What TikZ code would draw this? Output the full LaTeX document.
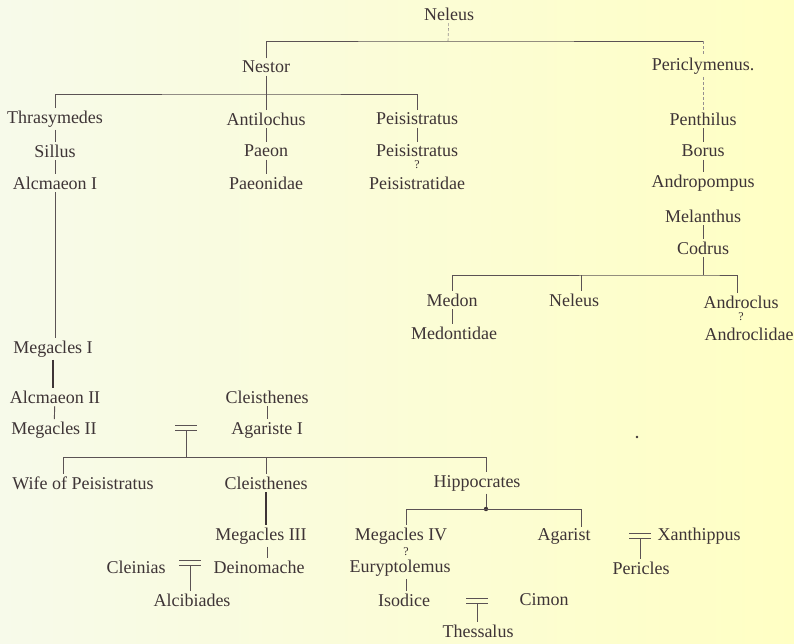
\documentclass[tikz,border=0pt]{standalone}
\usepackage{fontspec}
\setmainfont{Liberation Serif}
\usetikzlibrary{positioning}
\definecolor{ink}{RGB}{62,52,54}
\definecolor{bgleft}{RGB}{247,250,234}
\definecolor{bgmid}{RGB}{251,253,226}
\definecolor{bgright}{RGB}{255,255,196}
\begin{document}
\begin{tikzpicture}[x=1pt, y=-1pt, on grid, node distance=32pt,
	per/.style={inner xsep=0.5pt, inner ysep=2.5pt, text=ink, font=\fontsize{18}{20}\selectfont},
	doubt/.style={inner sep=0pt, text=ink, font=\fontsize{12}{14}\selectfont},
	kin/.style={draw=ink!85, line width=0.9pt},
	heavy/.style={draw=ink, line width=1.7pt},
	faint/.style={draw=ink!55, line width=0.6pt, densely dashed}]
	\shade[left color=bgleft, middle color=bgmid, right color=bgright] (0,0) rectangle (794,643);
	\useasboundingbox (0,0) rectangle (794,643);
	% Neleus and his sons
	\node[per] (neleus) at (449,14) {Neleus};
	\node[per] (nestor) at (266,67) {Nestor};
	\node[per] (pericl) at (703,66) {Periclymenus.};
	\coordinate (top) at (448,41);
	\draw[faint] (neleus) -- (top);
	\draw[kin] (nestor.north) |- (top) -- (top -| pericl);
	\draw[faint] (top -| pericl) -- (pericl.north);
	% line of Nestor
	\node[per] (thras) at (55,119) {Thrasymedes};
	\node[per] (sillus) [below=of thras] {Sillus};
	\node[per] (alc1) [below=of sillus] {Alcmaeon I};
	\node[per] (antil) at (266,119) {Antilochus};
	\node[per] (paeon) [below=of antil] {Paeon};
	\node[per] (paeonid) [below=of paeon] {Paeonidae};
	\node[per] (peis1) at (417,119) {Peisistratus};
	\node[per] (peis2) [below=of peis1] {Peisistratus};
	\node[per] (peisid) [below=of peis2] {Peisistratidae};
	\node[doubt] (q1) [below=14pt of peis2] {?};
	\coordinate (nb) at (266,94);
	\draw[kin] (nestor) -- (nb);
	\draw[kin] (thras.north) |- (nb) -| (peis1.north);
	\draw[kin] (nb) -- (antil);
	\draw[kin] (thras) -- (sillus);
	\draw[kin] (sillus) -- (alc1);
	\draw[kin] (antil) -- (paeon);
	\draw[kin] (paeon) -- (paeonid);
	\draw[kin] (peis1) -- (peis2);
	% line of Periclymenus
	\node[per] (penth) at (703,119) {Penthilus};
	\node[per] (borus) [below=of penth] {Borus};
	\node[per] (andro) [below=of borus] {Andropompus};
	\node[per] (melan) at (703,216) {Melanthus};
	\node[per] (codrus) [below=of melan] {Codrus};
	\draw[faint] (pericl) -- (penth);
	\draw[kin] (penth) -- (borus);
	\draw[kin] (borus) -- (andro);
	\draw[kin] (melan) -- (codrus);
	\node[per] (medon) at (452,300) {Medon};
	\node[per] (medontid) at (454,333) {Medontidae};
	\node[per] (nel2) at (574,300) {Neleus};
	\node[per] (androc) at (741,302) {Androclus};
	\node[doubt] (q2) [below=15pt of androc] {?};
	\node[per] (androclid) at (749,334) {Androclidae};
	\coordinate (cb) at (703,275);
	\coordinate (nel2b) at (581,275);
	\coordinate (androcb) at (737,275);
	\draw[kin] (codrus) -- (cb);
	\draw[kin] (medon.north) |- (cb) -- (androcb);
	\draw[kin] (androcb) -- (androcb |- androc.north);
	\draw[kin] (nel2b) -- (nel2b |- nel2.north);
	\draw[kin] (medon) -- (medontid.north -| medon);
	% Alcmaeonidae
	\node[per] (meg1) at (53,349) {Megacles I};
	\node[per] (alc2) at (55,397) {Alcmaeon II};
	\node[per] (meg2) at (54,430) {Megacles II};
	\node[per] (cleis1) at (267,397) {Cleisthenes};
	\node[per] (agar1) at (267,430) {Agariste I};
	\draw[kin] (alc1) -- (alc1 |- meg1.north);
	\draw[heavy] (meg1) -- (meg1 |- alc2.north);
	\draw[kin] (alc2) -- (meg2);
	\draw[kin] (cleis1) -- (agar1);
	\coordinate (wed1) at (186,430);
	\coordinate (mb) at (186,457);
	\node[per] (wife) at (83,483) {Wife of Peisistratus};
	\node[per] (cleis2) at (266,483) {Cleisthenes};
	\node[per] (hippo) at (477,483) {Hippocrates};
	\coordinate (wifeb) at (63,457);
	\coordinate (hippob) at (486,457);
	\draw[kin] (wed1) -- (mb);
	\draw[kin] (wifeb) -- (wifeb |- wife.north);
	\draw[kin] (wifeb) -- (hippob) -- (hippob |- hippo.north);
	\draw[kin] (mb -| cleis2) -- (cleis2);
	\node[per] (meg3) at (261,536) {Megacles III};
	\node[per] (dein) at (259,567) {Deinomache};
	\node[per] (clein) at (136,567) {Cleinias};
	\node[per] (alcib) at (192,600) {Alcibiades};
	\coordinate (wed2) at (190,565);
	\draw[heavy] (cleis2) -- (cleis2 |- meg3.north);
	\draw[kin] (meg3.south -| 267,0) -- (dein.north -| 267,0);
	\draw[kin] (wed2) -- (wed2 |- alcib.north);
	% children of Hippocrates
	\coordinate (hb) at (486,509);
	\node[per] (meg4) at (401,536) {Megacles IV};
	\node[doubt] (q3) at (406,552) {?};
	\node[per] (eury) at (400,568) {Euryptolemus};
	\node[per] (isod) at (404,600) {Isodice};
	\node[per] (agarist) at (564,536) {Agarist};
	\node[per] (cimon) at (544,600) {Cimon};
	\node[per] (thess) at (478,631) {Thessalus};
	\coordinate (wed3) at (477,603);
	\node[per] (xanth) at (699,536) {Xanthippus};
	\node[per] (peric) at (641,568) {Pericles};
	\coordinate (wed4) at (640,538);
	\draw[kin] (hippo.south -| hb) -- (hb);
	\fill[ink] (hb) circle (2.2);
	\draw[kin] (406,509) -- (581,509);
	\draw[kin] (406,509) -- (406,525);
	\draw[kin] (581,509) -- (581,527);
	\draw[kin] (eury.south -| 406,0) -- (isod.north -| 406,0);
	\draw[kin] (wed3) -- (wed3 |- thess.north);
	\draw[kin] (wed4) -- (wed4 |- peric.north);
	% marriage signs
	\foreach \w in {wed1,wed2,wed3,wed4}
		\draw[kin] (\w) ++(-11,-5) -- ++(22,0) (\w) ++(-11,0) -- ++(22,0);
	\fill[ink] (637,437) circle (1.4);
\end{tikzpicture}
\end{document}
